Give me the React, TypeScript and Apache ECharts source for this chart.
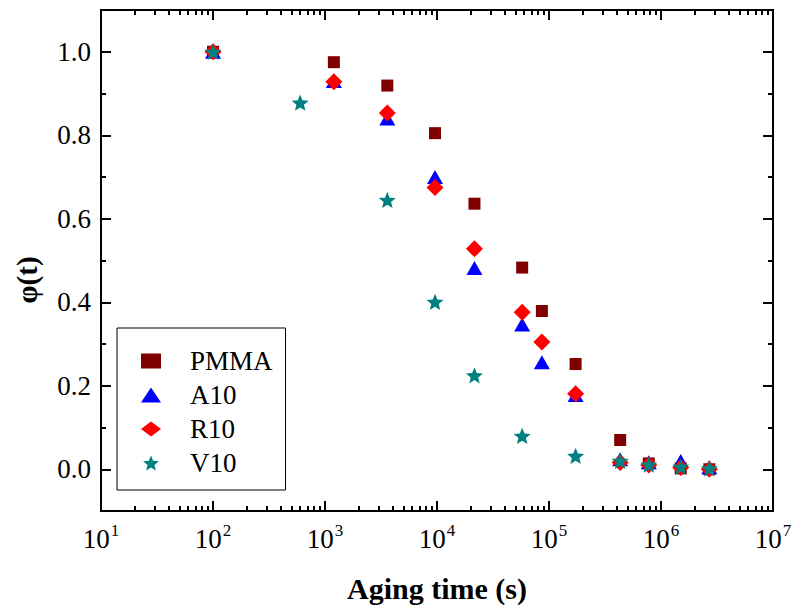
import React, { useEffect, useRef } from 'react';
import * as echarts from 'echarts';

// Aging times (s)
const timesMain = [100, 1200, 3600, 9600, 21600, 57600, 86400, 172800, 432000, 777600, 1500000, 2700000];
const timesV10 = [100, 600, 3600, 9600, 21600, 57600, 172800, 432000, 777600, 1500000, 2700000];

// phi(t) values
const pmma = [1.0, 0.975, 0.919, 0.805, 0.636, 0.483, 0.379, 0.252, 0.070, 0.014, 0.002, 0.0];
const a10 = [1.0, 0.93, 0.84, 0.70, 0.482, 0.347, 0.256, 0.178, 0.024, 0.017, 0.02, 0.005];
const r10 = [1.0, 0.928, 0.853, 0.675, 0.528, 0.376, 0.305, 0.181, 0.016, 0.010, 0.004, 0.0];
const v10 = [1.0, 0.878, 0.645, 0.401, 0.225, 0.080, 0.032, 0.020, 0.011, 0.006, 0.002];

// tick values
const yMajorTicks = [0, 0.2, 0.4, 0.6, 0.8, 1.0];
const yMinorTicks = [0.1, 0.3, 0.5, 0.7, 0.9];
const xDecadeExps = [1, 2, 3, 4, 5, 6];
const xMinorMultipliers = [2, 3, 4, 5, 6, 7, 8, 9];

const FONT = '"Liberation Serif", "Times New Roman", Times, serif';
const STAR = 'path://M50 0 L62.93 32.2 L97.55 34.55 L70.92 56.8 L79.39 90.45 L50 72 L20.61 90.45 L29.08 56.8 L2.45 34.55 L37.07 32.2 Z';

const xMinorLog: number[] = [];
xDecadeExps.forEach((e) => xMinorMultipliers.forEach((m) => xMinorLog.push(e + Math.log10(m))));

const GRID = { left: 101, top: 10, right: 22, bottom: 104 };
const lineStyle = { color: '#000', width: 2 };
const axisLine = { show: true, onZero: false, lineStyle };

export default function App() {
  const ref = useRef<HTMLDivElement>(null);
  useEffect(() => {
    if (!ref.current) return;
    const chart = echarts.init(ref.current, undefined, { renderer: 'svg' });
    const majorTick = { show: true, inside: true, length: 10, lineStyle };
    const minorTickX = { show: true, inside: true, length: 5, lineStyle, customValues: xMinorLog };
    const minorTickY = { show: true, inside: true, length: 5, lineStyle, customValues: yMinorTicks };
    const option: any = {
      animation: false,
      backgroundColor: '#fff',
      grid: [
        { ...GRID, containLabel: false },
        { ...GRID, containLabel: false },
      ],
      xAxis: [
        {
          gridIndex: 0, type: 'log', logBase: 10, min: 10, max: 1e7, position: 'bottom',
          axisLine, axisTick: majorTick, splitLine: { show: false },
          minorTick: { show: false },
          name: 'Aging time (s)', nameLocation: 'middle', nameGap: 62,
          nameTextStyle: { fontFamily: FONT, fontSize: 30, fontWeight: 'bold', color: '#000' },
          axisLabel: {
            margin: 11,
            formatter: (v: number) => `{b|10}{s|${Math.round(Math.log10(v))}}`,
            rich: {
              b: { fontFamily: FONT, fontSize: 27, color: '#000', verticalAlign: 'bottom', lineHeight: 30 },
              s: { fontFamily: FONT, fontSize: 17, color: '#000', verticalAlign: 'bottom', lineHeight: 17, padding: [0, 0, 13, 1] },
            },
          },
        },
        {
          gridIndex: 0, type: 'log', logBase: 10, min: 10, max: 1e7, position: 'top',
          axisLine, axisTick: majorTick, splitLine: { show: false },
          axisLabel: { show: false }, minorTick: { show: false },
        },
        {
          gridIndex: 1, type: 'value', min: 1, max: 7, position: 'bottom',
          axisLine, axisTick: minorTickX, splitLine: { show: false },
          axisLabel: { show: false },
        },
        {
          gridIndex: 1, type: 'value', min: 1, max: 7, position: 'top',
          axisLine, axisTick: minorTickX, splitLine: { show: false },
          axisLabel: { show: false },
        },
      ],
      yAxis: [
        {
          gridIndex: 0, type: 'value', min: -0.1, max: 1.1, position: 'left',
          axisLine,
          axisTick: { ...majorTick, customValues: yMajorTicks },
          splitLine: { show: false },
          axisLabel: {
            customValues: yMajorTicks, margin: 10,
            formatter: (v: number) => v.toFixed(1),
            fontFamily: FONT, fontSize: 27, color: '#000',
          },
        },
        {
          gridIndex: 0, type: 'value', min: -0.1, max: 1.1, position: 'right',
          axisLine,
          axisTick: { ...majorTick, customValues: yMajorTicks },
          splitLine: { show: false }, axisLabel: { show: false },
        },
        {
          gridIndex: 1, type: 'value', min: -0.1, max: 1.1, position: 'left',
          axisLine, axisTick: minorTickY,
          splitLine: { show: false }, axisLabel: { show: false },
        },
        {
          gridIndex: 1, type: 'value', min: -0.1, max: 1.1, position: 'right',
          axisLine, axisTick: minorTickY,
          splitLine: { show: false }, axisLabel: { show: false },
        },
      ],
      legend: {
        orient: 'vertical', left: 117, top: 328,
        padding: [18, 13, 12, 24], itemGap: 4,
        itemWidth: 20, itemHeight: 15,
        borderColor: '#000', borderWidth: 1,
        selectedMode: false,
        textStyle: { fontFamily: FONT, fontSize: 27, color: '#000', lineHeight: 30, padding: [0, 0, 0, 24] },
        data: [
          { name: 'PMMA', icon: 'rect' },
          { name: 'A10', icon: 'triangle' },
          { name: 'R10', icon: 'diamond' },
          { name: 'V10', icon: STAR },
        ],
      },
      graphic: [
        {
          type: 'text', x: 27, y: 280, rotation: Math.PI / 2,
          style: { text: 'φ(t)', fontFamily: FONT, fontSize: 29, fontWeight: 'bold', fill: '#000', align: 'center', verticalAlign: 'middle' },
        },
      ],
      series: [
        {
          name: 'PMMA', type: 'scatter', xAxisIndex: 0, yAxisIndex: 0,
          symbol: 'rect', symbolSize: 12, itemStyle: { color: '#800000', opacity: 1 },
          data: timesMain.map((t, i) => [t, pmma[i]]),
        },
        {
          name: 'A10', type: 'scatter', xAxisIndex: 0, yAxisIndex: 0,
          symbol: 'triangle', symbolSize: [16, 14], itemStyle: { color: '#0000ff', opacity: 1 },
          data: timesMain.map((t, i) => [t, a10[i]]),
        },
        {
          name: 'R10', type: 'scatter', xAxisIndex: 0, yAxisIndex: 0,
          symbol: 'diamond', symbolSize: [17, 17], itemStyle: { color: '#ff0000', opacity: 1 },
          data: timesMain.map((t, i) => [t, r10[i]]),
        },
        {
          name: 'V10', type: 'scatter', xAxisIndex: 0, yAxisIndex: 0,
          symbol: STAR, symbolSize: [17, 16.2], itemStyle: { color: '#008080', opacity: 1 },
          data: timesV10.map((t, i) => [t, v10[i]]),
        },
      ],
    };
    chart.setOption(option);
    return () => chart.dispose();
  }, []);
  return (
    <div
      ref={ref}
      style={{ position: 'absolute', left: 0, top: 0, width: 795, height: 615, background: '#fff' }}
    />
  );
}
